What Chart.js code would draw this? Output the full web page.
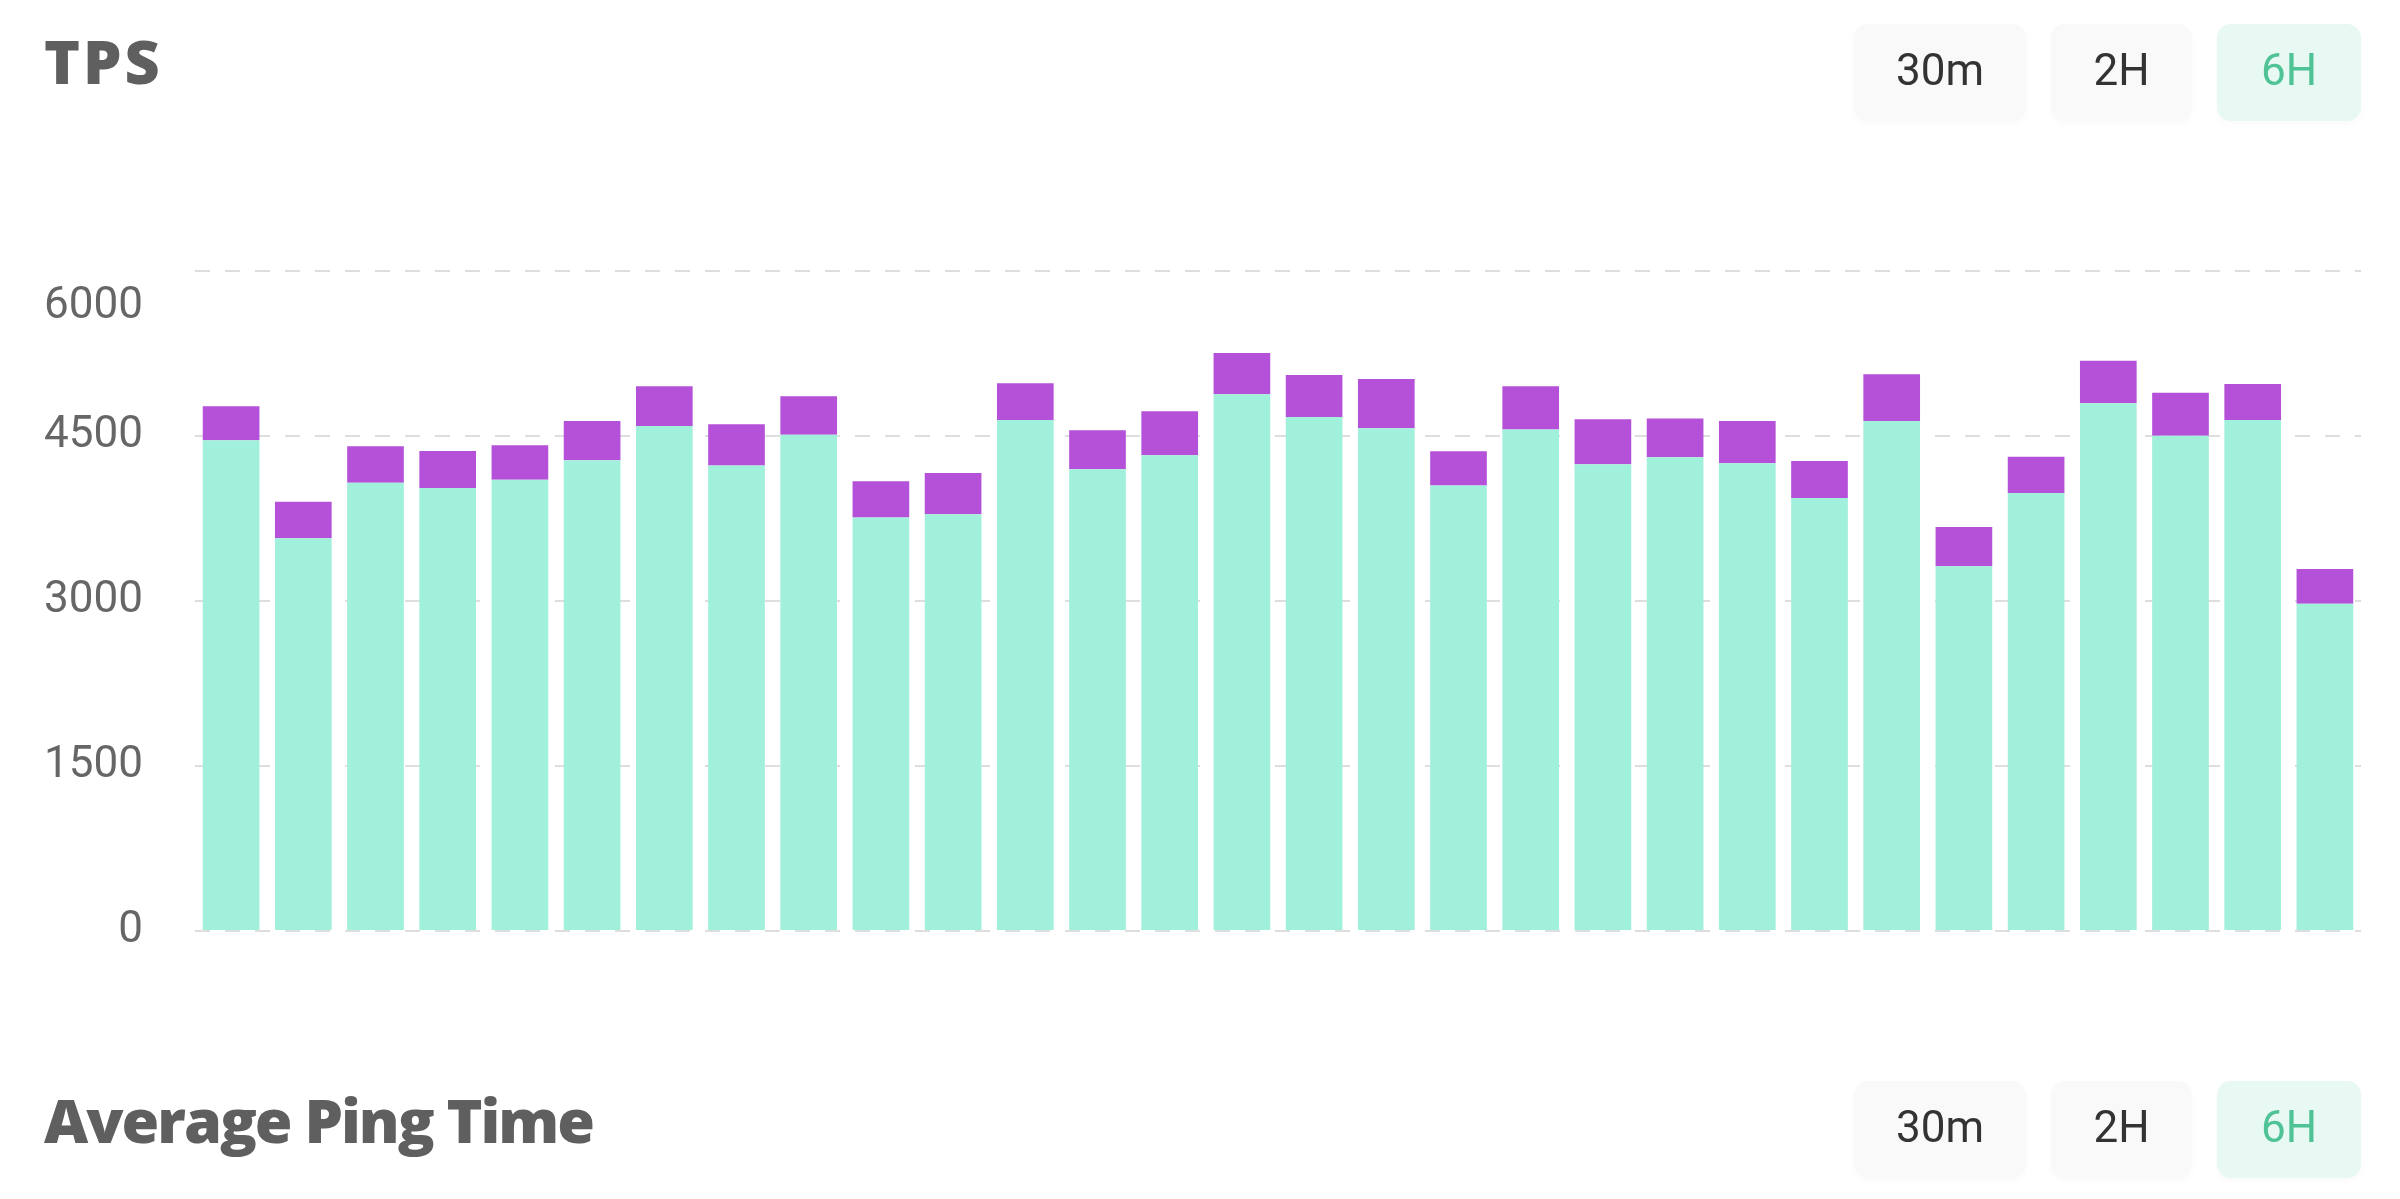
<!DOCTYPE html>
<html>
<head>
<meta charset="utf-8">
<title>TPS</title>
<script src="https://cdn.jsdelivr.net/npm/chart.js@4.4.1/dist/chart.umd.min.js"></script>
<style>
  html, body { margin: 0; padding: 0; background: #fff; }
  body { width: 2400px; height: 1199px; position: relative; overflow: hidden; }
  #tpsChart { position: absolute; left: 0; top: 0; }
  .title {
    position: absolute; left: 44px; margin: 0;
    font-family: "Open Sans", sans-serif; font-weight: 800; font-size: 61px;
    color: #5f5f5f; line-height: 1;
  }
  .btn {
    position: absolute; height: 97px; border-radius: 14px; box-sizing: border-box;
    padding-bottom: 6px;
    background: #f9f9f9; box-shadow: 0 3px 6px rgba(0,0,0,0.025);
    font-family: Roboto, sans-serif; font-size: 44px; color: #333;
    display: flex; align-items: center; justify-content: center;
  }
  .btn.active { background: #e8f8f3; color: #4fc296; }
</style>
</head>
<body>
<canvas id="tpsChart" width="2400" height="1199"></canvas>

<h1 class="title" style="top:30px;letter-spacing:3px">TPS</h1>
<div class="btn" style="left:1854px;top:24px;width:172px">30m</div>
<div class="btn" style="left:2051px;top:24px;width:141px">2H</div>
<div class="btn active" style="left:2217px;top:24px;width:144px">6H</div>

<h1 class="title" style="top:1089px;letter-spacing:-2px">Average Ping Time</h1>
<div class="btn" style="left:1854px;top:1081px;width:172px">30m</div>
<div class="btn" style="left:2051px;top:1081px;width:141px">2H</div>
<div class="btn active" style="left:2217px;top:1081px;width:144px">6H</div>

<script>
// du lieu doc tu hinh
var labels = ['1', '2', '3', '4', '5', '6', '7', '8', '9', '10',
    '11', '12', '13', '14', '15', '16', '17', '18', '19', '20',
    '21', '22', '23', '24', '25', '26', '27', '28', '29', '30'];

var successTps = [4461, 3570, 4076, 4028, 4103, 4279, 4591, 4231, 4512, 3758,
    3788, 4646, 4197, 4325, 4879, 4673, 4570, 4049, 4558, 4243,
    4306, 4252, 3937, 4637, 3316, 3982, 4797, 4503, 4646, 2976];

var failedTps = [309, 333, 330, 336, 313, 358, 361, 375, 349, 330,
    376, 333, 355, 400, 376, 382, 449, 312, 394, 409,
    352, 385, 336, 424, 357, 330, 388, 391, 327, 315];

var yTicks = [0, 1500, 3000, 4500, 6000];

var ctx = document.getElementById('tpsChart').getContext('2d');
var chart = new Chart(ctx, {
    type: 'bar',
    data: {
        labels: labels,
        datasets: [{
            label: 'Success',
            data: successTps,
            backgroundColor: '#a0f0db',
            categoryPercentage: 0.785,
            barPercentage: 1
        }, {
            label: 'Failed',
            data: failedTps,
            backgroundColor: '#b551d9',
            categoryPercentage: 0.785,
            barPercentage: 1
        }]
    },
    options: {
        responsive: false,
        animation: false,
        layout: {
            padding: { left: 0, top: 271, right: 39, bottom: 268 }
        },
        plugins: {
            legend: { display: false },
            tooltip: { enabled: false }
        },
        scales: {
            x: {
                stacked: true,
                display: false
            },
            y: {
                stacked: true,
                min: 0,
                max: 6000,
                afterBuildTicks: function (scale) {
                    scale.ticks = yTicks.map(function (v) { return { value: v }; });
                },
                afterFit: function (scale) {
                    scale.width = 195;
                },
                grid: {
                    color: '#dedede',
                    lineWidth: 2,
                    drawTicks: false
                },
                border: { display: false, dash: [15, 15] },
                ticks: {
                    padding: 52,
                    color: '#666',
                    font: { family: 'Roboto', size: 44, lineHeight: 1.65 },
                    callback: function (value) {
                        // nhan tren cung nam thap hon duong luoi
                        if (value === 6000) return ['', '6000'];
                        return String(value);
                    }
                }
            }
        }
    }
});
</script>
</body>
</html>
